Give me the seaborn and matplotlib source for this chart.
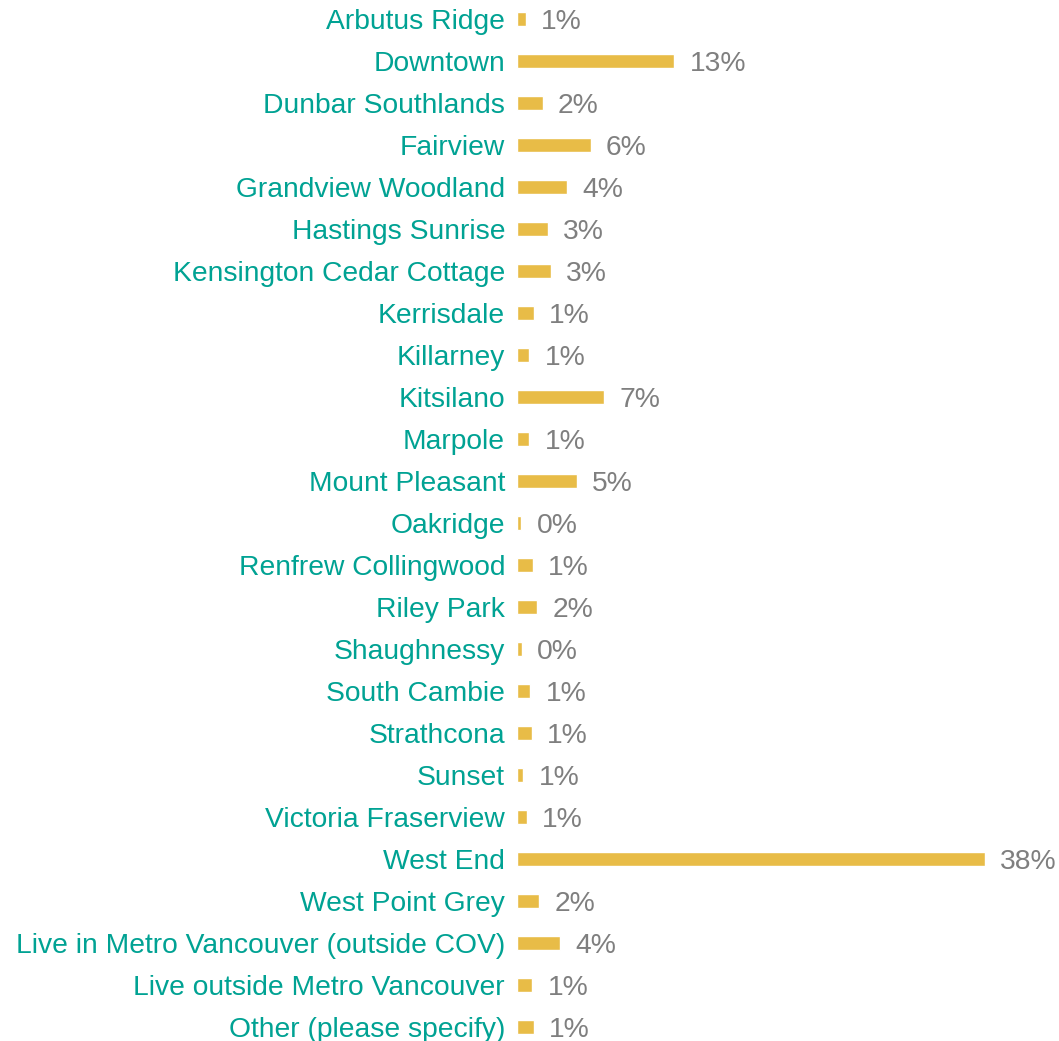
import matplotlib
matplotlib.use("Agg")
import matplotlib.pyplot as plt
import seaborn as sns
import pandas as pd

# Neighbourhood shares (percent)
neighbourhoods = [
    "Arbutus Ridge", "Downtown", "Dunbar Southlands", "Fairview",
    "Grandview Woodland", "Hastings Sunrise", "Kensington Cedar Cottage",
    "Kerrisdale", "Killarney", "Kitsilano", "Marpole", "Mount Pleasant",
    "Oakridge", "Renfrew Collingwood", "Riley Park", "Shaughnessy",
    "South Cambie", "Strathcona", "Sunset", "Victoria Fraserview",
    "West End", "West Point Grey", "Live in Metro Vancouver (outside COV)",
    "Live outside Metro Vancouver", "Other (please specify)",
]
shares = [
    0.73, 12.8, 2.09, 6.0, 4.07, 2.5, 2.76, 1.36, 1.0, 7.1, 1.0, 4.85,
    0.35, 1.3, 1.65, 0.41, 1.08, 1.2, 0.5, 0.81, 38.1, 1.79, 3.5, 1.24, 1.36,
]
share_labels = [
    "1%", "13%", "2%", "6%", "4%", "3%", "3%", "1%", "1%", "7%", "1%", "5%",
    "0%", "1%", "2%", "0%", "1%", "1%", "1%", "1%", "38%", "2%", "4%", "1%", "1%",
]

df = pd.DataFrame({"Neighbourhood": neighbourhoods, "Share": shares})

sns.set_theme(style="white")
plt.rcParams["font.family"] = ["Liberation Sans", "DejaVu Sans"]

fig = plt.figure(figsize=(10.59, 10.41), dpi=100)
ax = fig.add_axes([517 / 1059, 0, (985 - 517) / 1059, 1])

sns.barplot(data=df, y="Neighbourhood", x="Share", orient="h",
            color="#E8BC47", saturation=1, width=0.33, ax=ax)

ax.set_xlim(0, max(shares))
ax.set_ylim(24.333, -0.452)
ax.set_xlabel("")
ax.set_ylabel("")
ax.set_xticks([])
ax.tick_params(axis="y", length=0, pad=8.6, labelsize=20.3, labelcolor="#00A293")
for side in ax.spines.values():
    side.set_visible(False)

texts = ax.bar_label(ax.containers[0], labels=share_labels, padding=11,
                     fontsize=20.3, color="#7F7F7F")
for t in texts:
    t.set_va("center_baseline")

fig.savefig("out.png", dpi=100)
